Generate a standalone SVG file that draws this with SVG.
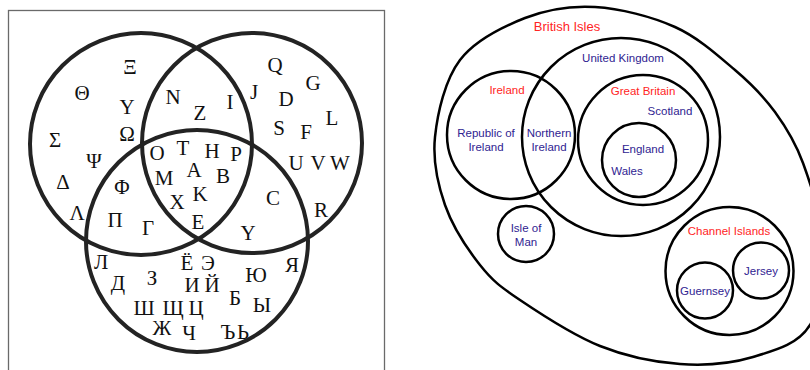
<svg xmlns="http://www.w3.org/2000/svg" width="810" height="370" viewBox="0 0 810 370">
<style>
.frame{fill:none;stroke:#6a6a6a;stroke-width:1.3}
.vc{fill:none;stroke:#232323;stroke-width:4}
.ec{fill:none;stroke:#000;stroke-width:2.5}
.g{font-family:"Liberation Serif","Times New Roman",serif;font-size:21px;fill:#111;text-anchor:middle}
.s{font-family:"Liberation Sans",Arial,sans-serif;font-size:11.5px;text-anchor:middle}
.red{fill:#ff2424}
.blue{fill:#2f2391}
</style>
<rect width="810" height="370" fill="#fff"/>
<g id="frame"><rect class="frame" x="8.5" y="10.5" width="376" height="380"/></g>
<g id="venn-greek"><circle class="vc" cx="141" cy="144" r="111"/>
<text class="g" x="130" y="74">Ξ</text><text class="g" x="82" y="100">Θ</text><text class="g" x="127" y="114">Υ</text>
<text class="g" x="55" y="147">Σ</text><text class="g" x="127" y="141">Ω</text><text class="g" x="94" y="168">Ψ</text>
<text class="g" x="63" y="189">Δ</text><text class="g" x="77" y="220">Λ</text></g>
<g id="venn-latin"><circle class="vc" cx="252" cy="143" r="110"/>
<text class="g" x="275" y="72">Q</text><text class="g" x="254" y="99">J</text><text class="g" x="286" y="106">D</text>
<text class="g" x="313" y="90">G</text><text class="g" x="332" y="125">L</text><text class="g" x="279" y="135">S</text>
<text class="g" x="306" y="139">F</text><text class="g" x="296" y="170">U</text><text class="g" x="318" y="170">V</text>
<text class="g" x="340" y="170">W</text><text class="g" x="321" y="217">R</text></g>
<g id="venn-cyrillic"><circle class="vc" cx="197" cy="241" r="111"/>
<text class="g" x="101" y="269">Л</text><text class="g" x="118" y="290">Д</text><text class="g" x="152" y="285">З</text>
<text class="g" x="187" y="270">Ё</text><text class="g" x="208" y="270">Э</text><text class="g" x="192" y="292">И</text>
<text class="g" x="212" y="292">Й</text><text class="g" x="144" y="315">Ш</text><text class="g" x="173" y="315">Щ</text>
<text class="g" x="196" y="315">Ц</text><text class="g" x="162" y="335">Ж</text><text class="g" x="189" y="340">Ч</text>
<text class="g" x="235" y="305">Б</text><text class="g" x="262" y="312">Ы</text><text class="g" x="256" y="282">Ю</text>
<text class="g" x="292" y="272">Я</text><text class="g" x="228" y="339">Ъ</text><text class="g" x="243" y="339">Ь</text></g>
<g id="venn-greek-latin"><text class="g" x="173" y="104">N</text><text class="g" x="200" y="120">Z</text><text class="g" x="230" y="109">I</text></g>
<g id="venn-greek-cyrillic"><text class="g" x="122" y="194">Φ</text><text class="g" x="115" y="227">Π</text><text class="g" x="148" y="235">Γ</text></g>
<g id="venn-latin-cyrillic"><text class="g" x="273" y="205">C</text><text class="g" x="248" y="240">Y</text></g>
<g id="venn-all"><text class="g" x="157" y="160">O</text><text class="g" x="183" y="155">T</text><text class="g" x="212" y="158">H</text>
<text class="g" x="236" y="161">P</text><text class="g" x="164" y="185">M</text><text class="g" x="194" y="177">A</text>
<text class="g" x="223" y="183">B</text><text class="g" x="200" y="201">K</text><text class="g" x="177" y="209">X</text>
<text class="g" x="198" y="229">E</text></g>
<g id="british-isles"><path class="ec" d="M595 7 C620 8.5 651.7 16.5 675 27 C698.3 37.5 718.3 55.8 735 70 C751.7 84.2 763.7 96.5 775 112 C786.3 127.5 795.2 141.7 803 163 C810.8 184.3 820.8 213 822 240 C823.2 267 821.5 305.5 810 325 C798.5 344.5 774.7 350.5 753 357 C731.3 363.5 705.5 365.8 680 364 C654.5 362.2 626.7 356.7 600 346 C573.3 335.3 540 313.5 520 300 C500 286.5 492.5 280.8 480 265 C467.5 249.2 452.5 226.3 445 205 C437.5 183.7 432.5 161.2 435 137 C437.5 112.8 445 79.8 460 60 C475 40.2 502.5 26.8 525 18 C547.5 9.2 570 5.5 595 7 Z"/>
<text class="s red" x="567" y="31" style="font-size:13px">British Isles</text></g>
<g id="ireland"><circle class="ec" cx="511" cy="135" r="64"/><text class="s red" x="507" y="94">Ireland</text></g>
<g id="republic-of-ireland"><text class="s blue" x="486" y="137">Republic of</text><text class="s blue" x="486" y="151">Ireland</text></g>
<g id="northern-ireland"><text class="s blue" x="549" y="137">Northern</text><text class="s blue" x="549" y="151">Ireland</text></g>
<g id="united-kingdom"><circle class="ec" cx="621" cy="137" r="99"/><text class="s blue" x="623" y="62">United Kingdom</text></g>
<g id="great-britain"><circle class="ec" cx="643" cy="140" r="65"/><text class="s red" x="643" y="95">Great Britain</text></g>
<g id="scotland"><text class="s blue" x="670" y="115">Scotland</text></g>
<g id="england-wales"><circle class="ec" cx="639" cy="160" r="37"/><text class="s blue" x="643" y="153">England</text><text class="s blue" x="627" y="175">Wales</text></g>
<g id="isle-of-man"><circle class="ec" cx="526" cy="234" r="28"/><text class="s blue" x="526" y="232">Isle of</text><text class="s blue" x="526" y="246">Man</text></g>
<g id="channel-islands"><circle class="ec" cx="729.5" cy="271" r="64"/><text class="s red" x="729" y="235">Channel Islands</text></g>
<g id="guernsey"><circle class="ec" cx="705" cy="290.5" r="28"/><text class="s blue" x="705" y="295">Guernsey</text></g>
<g id="jersey"><circle class="ec" cx="761" cy="270.5" r="28"/><text class="s blue" x="761" y="275">Jersey</text></g>
</svg>
